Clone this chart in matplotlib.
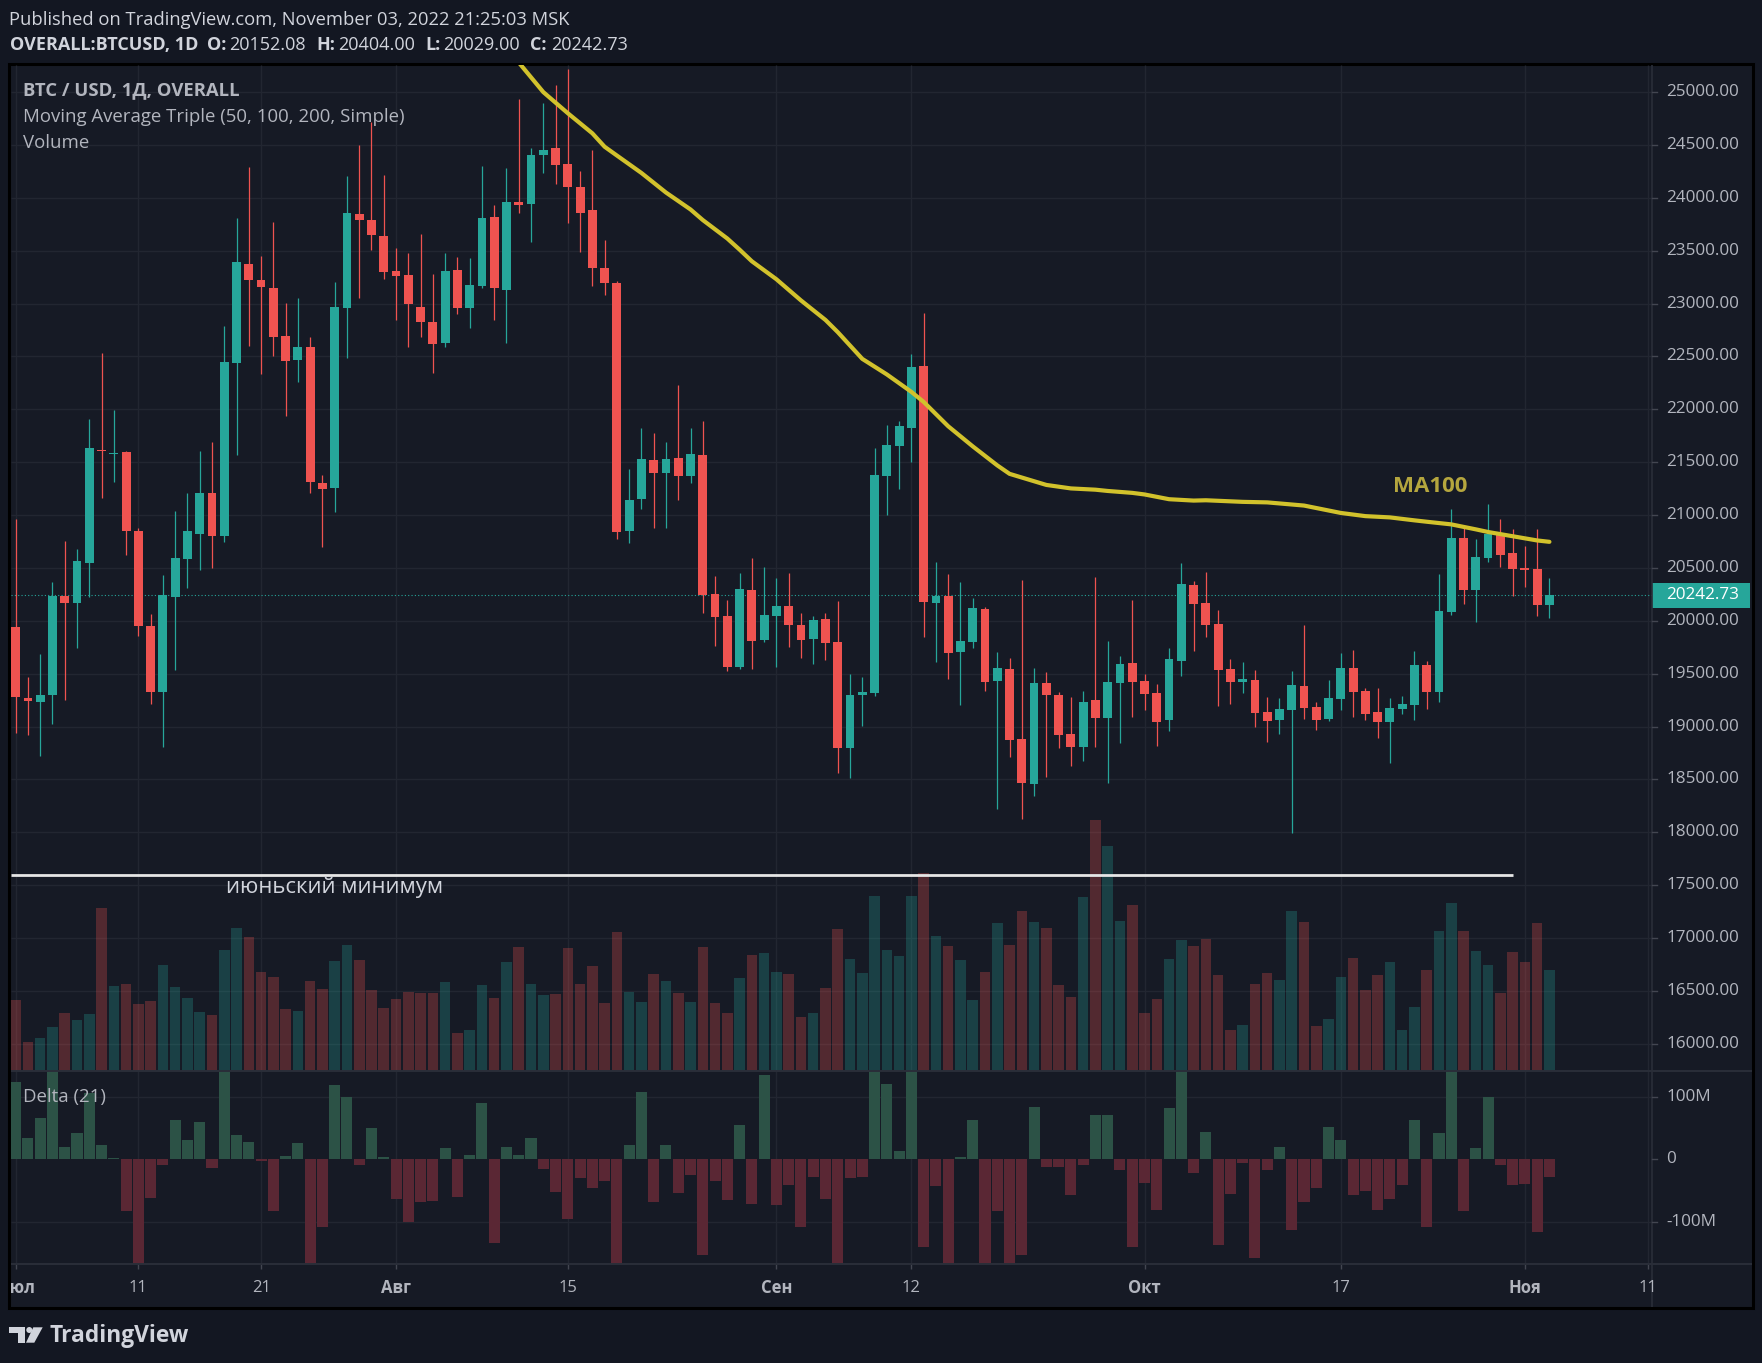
import matplotlib.pyplot as plt
from matplotlib.patches import Rectangle, Polygon, Circle
from matplotlib.transforms import blended_transform_factory
import numpy as np

# дневные свечи BTCUSD с 1 июля по 3 ноября 2022 (индекс 0 = 1 июля)
opens = [19939, 19267, 19237, 19297, 20234, 20169, 20546, 21617, 21580, 21592,
         20846, 19948, 19328, 20226, 20585, 20824, 21206, 20802, 22437, 23378,
         23226, 23148, 22697, 22463, 22585, 21305, 21258, 22962, 23851, 23794,
         23643, 23309, 23274, 22971, 22823, 22624, 23322, 22958, 23170, 23820,
         23127, 23959, 23946, 24402, 24471, 24324, 24102, 23881, 23341, 23191,
         20851, 21152, 21518, 21401, 21537, 21372, 21565, 20254, 20043, 19559,
         20292, 19822, 20047, 20137, 19958, 19831, 20014, 19798, 18793, 19300,
         19314, 21372, 21654, 21828, 22406, 20169, 20231, 19709, 19803, 20108,
         19427, 19545, 18882, 18459, 19413, 19295, 18929, 18807, 19248, 19079,
         19413, 19601, 19432, 19314, 19060, 19624, 20339, 20165, 19968, 19545,
         19418, 19441, 19136, 19060, 19160, 19385, 19183, 19070, 19258, 19554,
         19338, 19136, 19042, 19164, 19202, 19582, 19328, 20080, 20780, 20292,
         20593, 20818, 20639, 20498, 20489, 20152.08]
highs = [20967, 19471, 19688, 20364, 20759, 20681, 21904, 22528, 21990, 21610,
         20880, 20061, 20438, 21036, 21210, 21610, 21687, 22784, 23812, 24293,
         23452, 23773, 23010, 23057, 22680, 21375, 23205, 24206, 24501, 24718,
         24219, 23526, 23474, 23656, 23283, 23482, 23443, 23435, 24302, 23933,
         24284, 24935, 24471, 24896, 25069, 25217, 24254, 24454, 23604, 23214,
         21433, 21819, 21772, 21687, 22228, 21828, 21894, 20423, 20193, 20451,
         20592, 20508, 20404, 20451, 20071, 20043, 20071, 20184, 19497, 19469,
         21636, 21856, 21885, 22519, 22914, 20555, 20442, 20367, 20212, 20132,
         19704, 19648, 20386, 19554, 19516, 19328, 19277, 19338, 20414, 19808,
         19667, 20193, 19497, 19403, 19742, 20545, 20376, 20461, 20104, 19638,
         19610, 19535, 19277, 19268, 19526, 19958, 19230, 19441, 19695, 19723,
         19366, 19366, 19268, 19286, 19714, 19620, 20442, 21053, 20893, 20771,
         21100, 20959, 20865, 20705, 20865, 20404.00]
lows = [18942, 18916, 18725, 19029, 19254, 19740, 20226, 21162, 21314, 20625,
        19857, 19215, 18803, 19536, 20312, 20477, 20503, 20750, 21570, 22598,
        22333, 22502, 21938, 22259, 21210, 20698, 21028, 22488, 23049, 23504,
        23231, 22845, 22593, 22684, 22346, 22585, 22897, 22771, 23148, 22849,
        22624, 23855, 23578, 24232, 24133, 23764, 23487, 23165, 23083, 20771,
        20738, 21053, 20879, 20879, 21142, 21307, 20075, 19765, 19521, 19540,
        19540, 19803, 19559, 19756, 19653, 19587, 19634, 18558, 18511, 19009,
        19291, 21001, 21250, 21504, 19850, 19610, 19446, 19206, 19746, 19333,
        18224, 18713, 18125, 18341, 18525, 18797, 18623, 18675, 18807, 18464,
        18840, 19093, 19159, 18821, 18962, 19479, 19714, 19845, 19192, 19211,
        19314, 18999, 18858, 18934, 17998, 19075, 18971, 19050, 19155, 19093,
        19065, 18896, 18652, 19117, 19060, 19164, 19230, 20052, 20155, 19991,
        20555, 20508, 20231, 20324, 20043, 20029.00]
closes = [19276, 19241, 19302, 20234, 20165, 20564, 21631, 21610, 21590, 20850,
          19948, 19328, 20247, 20590, 20846, 21206, 20802, 22450, 23396, 23222,
          23153, 22684, 22454, 22593, 21314, 21249, 22965, 23860, 23786, 23647,
          23300, 23265, 22992, 22823, 22615, 23309, 22962, 23179, 23812, 23148,
          23964, 23933, 24406, 24454, 24306, 24098, 23855, 23335, 23191, 20841,
          21147, 21527, 21401, 21527, 21372, 21574, 20240, 20038, 19559, 20301,
          19812, 20052, 20137, 19963, 19822, 20005, 19794, 18793, 19295, 19328,
          21377, 21659, 21838, 22397, 20179, 20231, 19700, 19808, 20118, 19418,
          19554, 18877, 18468, 19413, 19295, 18919, 18807, 19230, 19079, 19422,
          19591, 19422, 19305, 19046, 19638, 20348, 20155, 19963, 19535, 19418,
          19451, 19131, 19051, 19164, 19394, 19178, 19065, 19267, 19554, 19328,
          19117, 19042, 19173, 19211, 19582, 19328, 20090, 20780, 20292, 20602,
          20818, 20621, 20489, 20480, 20152.08, 20242.73]

# объём (относительные единицы) и Delta (21) в млн
volumes = [213, 87, 99, 132, 174, 153, 171, 489, 255, 261,
           201, 210, 318, 252, 219, 177, 168, 363, 429, 402,
           297, 282, 186, 180, 270, 246, 330, 378, 333, 243,
           189, 216, 237, 234, 234, 267, 114, 123, 258, 219,
           327, 372, 261, 228, 231, 369, 261, 315, 204, 417,
           237, 207, 291, 270, 234, 207, 372, 204, 174, 279,
           348, 354, 297, 291, 162, 174, 249, 426, 336, 294,
           525, 363, 345, 525, 594, 405, 375, 333, 213, 297,
           444, 378, 480, 447, 429, 258, 222, 522, 752, 674,
           450, 498, 174, 216, 336, 393, 375, 396, 288, 123,
           138, 261, 294, 273, 480, 447, 135, 156, 282, 339,
           243, 288, 327, 123, 192, 303, 420, 504, 420, 360,
           318, 234, 357, 327, 444, 303]
deltas = [123, 33, 65, 160, 20, 41, 106, 23, 1, -83,
          -180, -62, -10, 62, 30, 60, -15, 160, 38, 28,
          -3, -83, 5, 26, -180, -109, 118, 99, -9, 49,
          4, -64, -101, -69, -67, 18, -61, 7, 89, -135,
          20, 7, 34, -16, -53, -96, -30, -46, -35, -180,
          22, 107, -69, 23, -54, -25, -153, -35, -66, 54,
          -72, 134, -74, -41, -109, -28, -64, -180, -30, -28,
          160, 120, 13, 160, -141, -43, -180, 4, 62, -180,
          -83, -180, -154, 84, -12, -12, -58, -9, 70, 70,
          -17, -141, -38, -82, 81, 160, -22, 44, -137, -56,
          -6, -158, -17, 20, -114, -69, -46, 52, 31, -58,
          -51, -82, -64, -41, 63, -108, 41, 160, -83, 17,
          99, -9, -41, -40, -116, -28]

# MA100
ma_days = [40, 41, 43, 45, 47, 48, 49, 51, 53, 55, 56, 58, 59, 60, 62, 64, 66, 67,
           69, 71, 73, 74, 76, 78, 80, 81, 83, 84, 86, 88, 89, 91, 92, 94, 96, 97,
           100, 102, 105, 108, 110, 112, 114, 115, 117, 119, 120, 122, 124, 125]
ma_values = [25390, 25280, 25000, 24800, 24610, 24483, 24400, 24235, 24050, 23890,
             23790, 23615, 23510, 23400, 23230, 23030, 22845, 22730, 22477, 22330,
             22165, 22070, 21840, 21650, 21470, 21390, 21320, 21285, 21252, 21240,
             21228, 21210, 21195, 21150, 21137, 21140, 21125, 21120, 21090, 21020,
             20990, 20978, 20950, 20937, 20912, 20865, 20840, 20800, 20760, 20747]

june_low = 17594
june_low_end = 122
tick_days = [0, 10, 20, 31, 45, 62, 73, 92, 108, 123, 133]
tick_labels = ['Июл', '11', '21', 'Авг', '15', 'Сен', '12', 'Окт', '17', 'Ноя', '11']
month_ticks = {'Июл', 'Авг', 'Сен', 'Окт', 'Ноя'}
price_ticks = np.arange(16000, 25001, 500)
delta_ticks = [100, 0, -100]
delta_labels = ['100M', '0', '-100M']

W, H = 1762, 1363
BG = '#131722'
PANE = '#161a25'
GRID = '#222631'
LINE = '#2a2e39'
UP = '#26a69a'
DOWN = '#ef5350'
TXT = '#b2b5be'
HEAD = '#d1d4dc'
X0, X1 = -0.38, 133.36

plt.rcParams['font.family'] = ['Open Sans', 'DejaVu Sans']

fig = plt.figure(figsize=(W / 100, H / 100), dpi=100, facecolor=BG)


def rect(x0, y0, x1, y1):
    return [x0 / W, 1 - y1 / H, (x1 - x0) / W, (y1 - y0) / H]


def overlay():
    a = fig.add_axes([0, 0, 1, 1])
    a.set_facecolor('none')
    a.set_xlim(0, W)
    a.set_ylim(H, 0)
    a.axis('off')
    return a


full = overlay()
full.add_patch(Rectangle((9, 64), 1744, 1244, fc=PANE, ec='black', lw=2.2))

days = np.arange(len(opens))
o = np.array(opens)
c = np.array(closes)
cols = [UP if cc >= oo else DOWN for oo, cc in zip(o, c)]

# цена
ax = fig.add_axes(rect(11, 65, 1652, 1071))
ax.set_facecolor('none')
ax.set_xlim(X0, X1)
ax.set_ylim(15743, 25256)
ax.axis('off')
ax.hlines(price_ticks, X0, X1, color=GRID, lw=1, zorder=0)
ax.vlines(tick_days, 15743, 25256, color=GRID, lw=1, zorder=0)
ax.vlines(days, lows, highs, colors=cols, lw=0.9, zorder=2)
ax.bar(days, np.maximum(np.abs(c - o), 9), bottom=np.minimum(o, c), width=0.72,
       color=cols, zorder=3)
ax.plot(ma_days, ma_values, color='#d2c22c', lw=3.0, zorder=4, solid_capstyle='round')
ax.axhline(closes[-1], color=UP, lw=0.8, ls=(0, (1, 2)), zorder=1)
ax.text(115.3, 21266, 'MA100', color='#b5a63e', fontsize=16, fontweight='bold',
        ha='center', va='center')

# объём
axv = fig.add_axes(rect(11, 65, 1652, 1071))
axv.set_facecolor('none')
axv.set_xlim(X0, X1)
axv.set_ylim(0, 3018)
axv.axis('off')
axv.bar(days, volumes, width=0.86, color=cols, alpha=0.28)

# июньский минимум
axo = fig.add_axes(rect(11, 65, 1652, 1071))
axo.set_facecolor('none')
axo.set_xlim(X0, X1)
axo.set_ylim(15743, 25256)
axo.axis('off')
axo.hlines(june_low, X0, june_low_end, color='#e6e6e6', lw=2.0)
axo.annotate('июньский минимум', xy=(26.0, june_low), xytext=(0, -1),
             textcoords='offset points', ha='center', va='top',
             color=HEAD, fontsize=15.9)

# Delta
axd = fig.add_axes(rect(11, 1071, 1652, 1264))
axd.set_facecolor('none')
axd.set_xlim(X0, X1)
axd.set_ylim(-168, 141)
axd.axis('off')
axd.hlines([100, -100], X0, X1, color=GRID, lw=1, zorder=0)
axd.vlines(tick_days, -168, 141, color=GRID, lw=1, zorder=0)
axd.bar(days, deltas, width=0.9,
        color=['#2c5246' if d >= 0 else '#5a2734' for d in deltas])

# ось времени
axx = fig.add_axes(rect(11, 1264, 1652, 1307))
axx.set_facecolor('none')
axx.set_xlim(X0, X1)
axx.set_ylim(1307, 1264)
axx.axis('off')
axx.vlines(tick_days, 1264, 1269, color='#434651', lw=1)

top = overlay()

# рамки панелей
top.hlines([1071, 1264], 11, 1752, color=LINE, lw=1.4)
top.vlines(1652, 65, 1307, color=LINE, lw=1.2)

# подписи дат: первая обрезана рамкой, остальные поверх линии шкалы
tx = blended_transform_factory(axx.transData, top.transData)
frame_clip = Rectangle((11, 1264), 1741, 44, transform=top.transData)
for d, lab in zip(tick_days, tick_labels):
    t = top.text(d, 1288, lab, transform=tx, ha='center', va='center', color=TXT,
                 fontsize=12, fontweight='bold' if lab in month_ticks else 'normal',
                 zorder=5, clip_on=True)
    t.set_clip_path(frame_clip)

# шкала цены
tp = blended_transform_factory(top.transData, ax.transData)
for p in price_ticks:
    top.text(1666, p, f'{p:.2f}', transform=tp, color=TXT, fontsize=12.3, va='center')
    top.plot([1652, 1657], [p, p], transform=tp, color='#434651', lw=1)
td = blended_transform_factory(top.transData, axd.transData)
for v, lab in zip(delta_ticks, delta_labels):
    top.text(1666, v, lab, transform=td, color=TXT, fontsize=12.3, va='center')
    top.plot([1652, 1657], [v, v], transform=td, color='#434651', lw=1)

y_last = H - ax.transData.transform((0, closes[-1]))[1]
top.add_patch(Rectangle((1652, y_last - 12.5), 98, 25, fc=UP, ec='none'))
top.text(1666, y_last, f'{closes[-1]:.2f}', color='white', fontsize=12.3, va='center')

# легенды
top.text(23, 90, 'BTC / USD, 1Д, OVERALL', color=TXT, fontsize=13.3,
         fontweight='bold', va='center')
top.text(23, 116.5, 'Moving Average Triple (50, 100, 200, Simple)', color=TXT,
         fontsize=13.4, va='center')
top.text(23, 142.6, 'Volume', color=TXT, fontsize=13.4, va='center')
top.text(23, 1097, 'Delta (21)', color=TXT, fontsize=13.4, va='center')

# заголовок
top.text(9, 20, 'Published on TradingView.com, November 03, 2022 21:25:03 MSK',
         color=HEAD, fontsize=13.2, va='center')
head = [(9.6, 'OVERALL:BTCUSD, 1D', 'bold'), (207, 'O:', 'bold'),
        (229, f'{opens[-1]:.2f}', 'normal'), (316, 'H:', 'bold'),
        (338, f'{highs[-1]:.2f}', 'normal'), (425, 'L:', 'bold'),
        (443, f'{lows[-1]:.2f}', 'normal'), (530, 'C:', 'bold'),
        (551, f'{closes[-1]:.2f}', 'normal')]
for x, s, w in head:
    top.text(x, 45, s, color=HEAD, fontsize=13, fontweight=w, va='center')

# логотип TradingView
logo = '#d1d4dc'
top.add_patch(Polygon([(9.3, 1327.3), (25, 1327.3), (25, 1342.7), (18.3, 1342.7),
                       (18.3, 1333), (9.3, 1333)], closed=True, fc=logo, ec='none'))
top.add_patch(Circle((29.3, 1330), 3, fc=logo, ec='none'))
top.add_patch(Polygon([(33.3, 1327.3), (42.7, 1327.3), (34.3, 1342.7), (26, 1342.7)],
                      closed=True, fc=logo, ec='none'))
top.text(50, 1336, 'TradingView', color=logo, fontsize=16.4, fontweight='bold',
         va='center')

fig.savefig('out.png', dpi=100, facecolor=BG)
